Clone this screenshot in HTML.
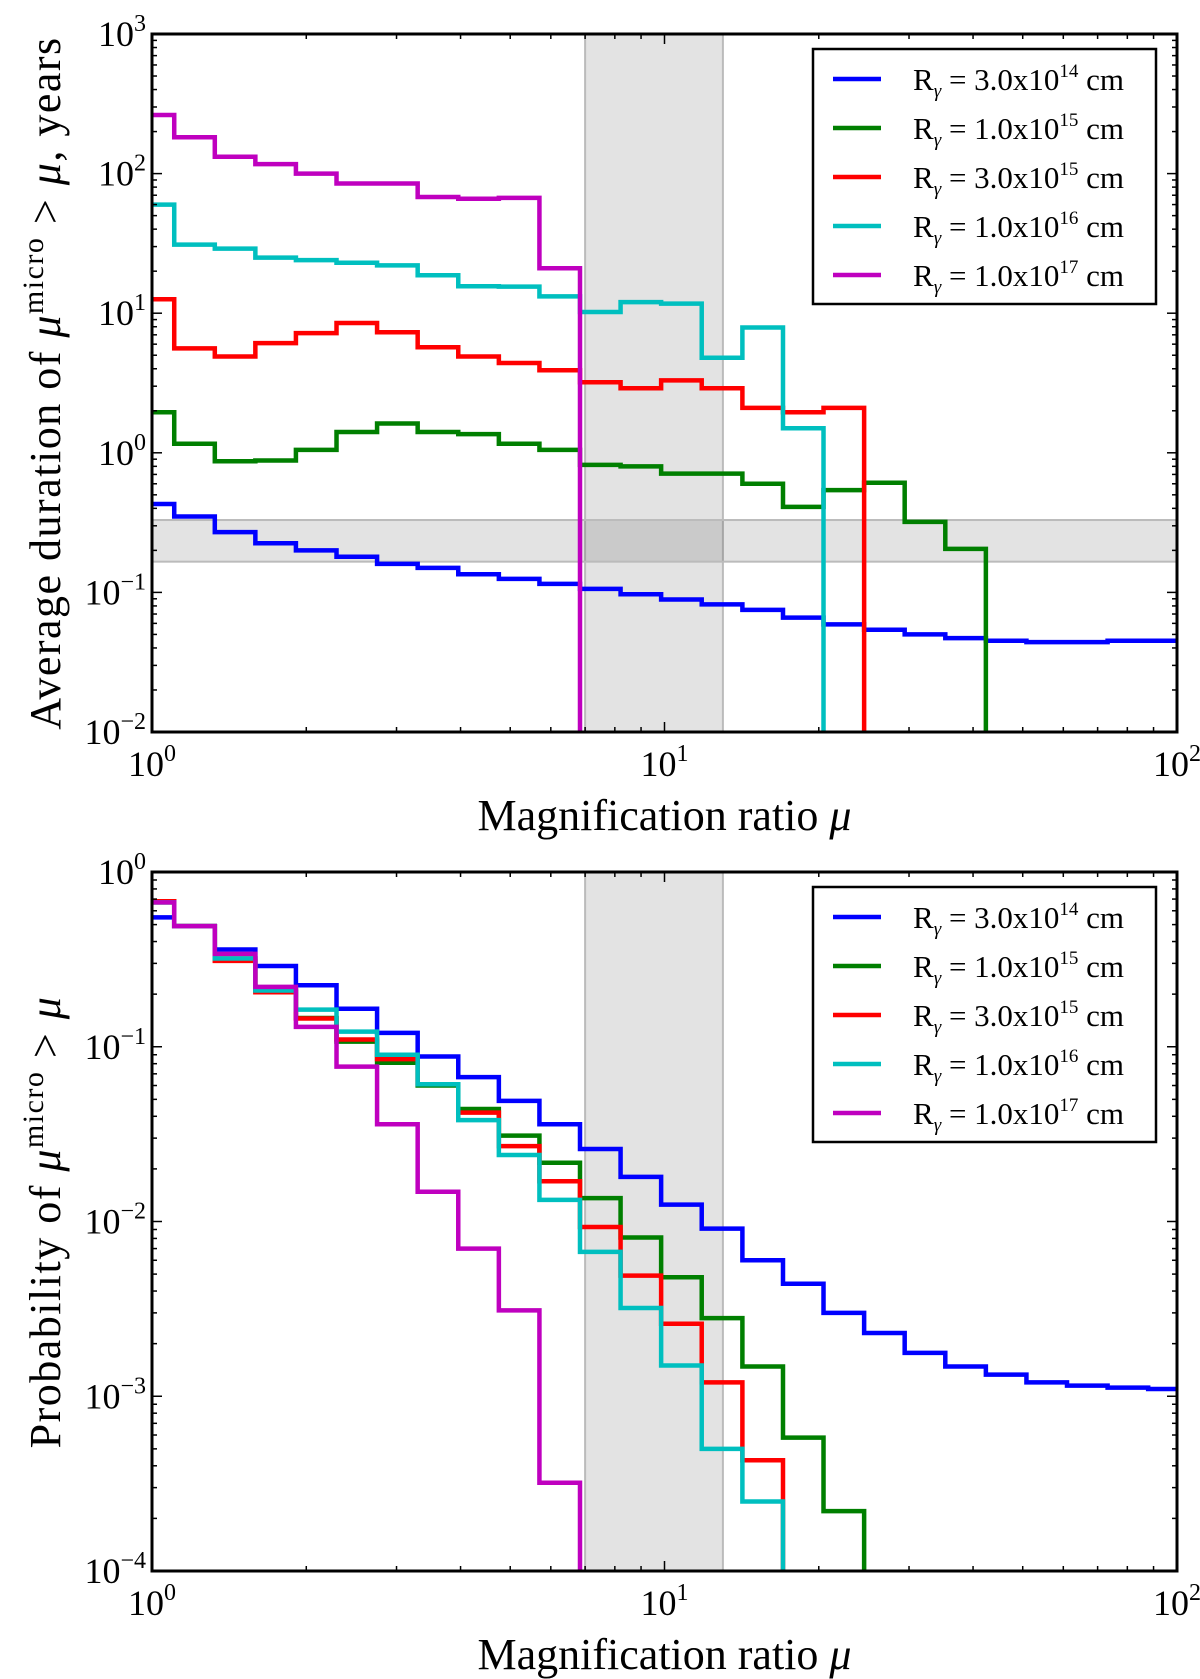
<!DOCTYPE html>
<html><head><meta charset="utf-8"><style>
html,body{margin:0;padding:0;background:#fff;}
svg{display:block;font-family:"Liberation Serif","DejaVu Serif",serif;}
</style></head>
<body>
<svg id="fig" width="1200" height="1679" viewBox="0 0 1200 1679" xmlns="http://www.w3.org/2000/svg"></svg>
<script>
// ---- data ----
const binEdges = [1.105,1.326,1.591,1.909,2.291,2.749,3.299,3.959,4.751,5.701,6.841,8.209,9.85,11.82,14.19,17.03,20.43,24.52,29.42,35.31,42.37,50.84,61.01,73.21,87.85];
const seriesLabels = ["3.0x10","1.0x10","3.0x10","1.0x10","1.0x10"];
const seriesExp = ["14","15","15","16","17"];
const seriesColors = ["#0000ff","#007f00","#ff0000","#00bfbf","#bf00bf"];
const durBlue = [0.43,0.35,0.27,0.225,0.20,0.18,0.16,0.15,0.135,0.125,0.115,0.106,0.097,0.089,0.082,0.075,0.066,0.059,0.054,0.050,0.047,0.045,0.044,0.044,0.045,0.045];
const durGreen = [1.95,1.16,0.87,0.88,1.05,1.41,1.62,1.41,1.36,1.16,1.05,0.82,0.80,0.71,0.71,0.60,0.41,0.54,0.61,0.32,0.205];
const durRed = [12.6,5.6,4.9,6.1,7.2,8.5,7.3,5.7,4.9,4.4,3.9,3.2,2.9,3.3,2.9,2.1,1.95,2.1];
const durCyan = [60,31,29,25,24,23,22,18.7,15.6,15.5,13.2,10.2,12,11.7,4.8,7.9,1.5];
const durMagenta = [263,182,132,117,100,85,85,68,66,67,21];
const probBlue = [0.55,0.49,0.36,0.29,0.225,0.165,0.12,0.088,0.067,0.049,0.036,0.026,0.018,0.0125,0.0091,0.0060,0.0044,0.0030,0.0023,0.00177,0.00148,0.00133,0.0012,0.00115,0.00112,0.0011];
const probGreen = [0.67,0.49,0.32,0.21,0.146,0.107,0.081,0.060,0.044,0.031,0.0217,0.0136,0.0081,0.0048,0.0028,0.00148,0.00058,0.00022];
const probRed = [0.68,0.49,0.31,0.205,0.145,0.11,0.085,0.061,0.042,0.027,0.017,0.0093,0.0049,0.0026,0.0012,0.00043];
const probCyan = [0.67,0.49,0.32,0.21,0.163,0.122,0.090,0.061,0.038,0.024,0.0133,0.0067,0.0032,0.0015,0.0005,0.00025];
const probMagenta = [0.67,0.49,0.34,0.22,0.13,0.077,0.036,0.0148,0.0070,0.0031,0.00032];
const bandX = [7, 13];
const bandY = [0.166, 0.33];
const xTickExps = [0,1,2];
const topYTickExps = [-2,-1,0,1,2,3];
const botYTickExps = [-4,-3,-2,-1,0];

const NS="http://www.w3.org/2000/svg";
const svg=document.getElementById('fig');
function mk(tag,attrs,parent){const e=document.createElementNS(NS,tag);for(const k in attrs)e.setAttribute(k,attrs[k]);(parent||svg).appendChild(e);return e;}

function makePanel(cfg){
  const L=152,R=1177,T=cfg.top,B=cfg.bottom;
  const xs=v=>L+(Math.log10(v)-0)/2*(R-L);
  const ys=v=>B-(Math.log10(v)-cfg.ymin)/(cfg.ymax-cfg.ymin)*(B-T);
  const g=mk('g',{});
  
  
  const cp=mk('clipPath',{id:cfg.name+'-clip'},g);
  mk('rect',{x:L,y:T,width:R-L,height:B-T},cp);
  const plot=mk('g',{'clip-path':'url(#'+cfg.name+'-clip)'},g);
  const vb=mk('rect',{x:xs(bandX[0]),y:T,width:xs(bandX[1])-xs(bandX[0]),height:B-T,fill:'#000','fill-opacity':0.11,stroke:'#bbb','stroke-width':2},plot);
  
  
  if(cfg.hband){
    const hb=mk('rect',{x:L,y:ys(bandY[1]),width:R-L,height:ys(bandY[0])-ys(bandY[1]),fill:'#000','fill-opacity':0.11,stroke:'#bbb','stroke-width':2},plot);
    
    
  }
  cfg.series.forEach((vals,si)=>{
    let d='M'+L+' '+ys(vals[0]);
    for(let i=0;i<vals.length;i++){
      const xe = i<binEdges.length ? xs(binEdges[i]) : R;
      d+=' L'+xe+' '+ys(vals[i]);
      if(i+1<vals.length) d+=' L'+xe+' '+ys(vals[i+1]);
      else if(i<binEdges.length) d+=' L'+xe+' '+(B+5);
    }
    const p=mk('path',{d:d,fill:'none',stroke:seriesColors[si],'stroke-width':4.5,'stroke-linejoin':'miter'},plot);
    
    
  });
  const tk=mk('g',{stroke:'#000','stroke-width':1.5},g);
  for(let e=0;e<2;e++){for(let m=1;m<=9;m++){const v=Math.pow(10,e)*m;const x=xs(v);const len=m==1?10:5;
    mk('line',{x1:x,y1:B,x2:x,y2:B-len},tk);mk('line',{x1:x,y1:T,x2:x,y2:T+len},tk);}}
  for(let e=cfg.ymin;e<cfg.ymax;e++){for(let m=1;m<=9;m++){const v=Math.pow(10,e)*m;const y=ys(v);const len=m==1?10:5;
    mk('line',{x1:L,y1:y,x2:L+len,y2:y},tk);mk('line',{x1:R,y1:y,x2:R-len,y2:y},tk);}}
  const fr=mk('rect',{x:L,y:T,width:R-L,height:B-T,fill:'none',stroke:'#000','stroke-width':3},g);
  
  
  xTickExps.forEach(e=>{
    const t=mk('text',{x:xs(Math.pow(10,e)),y:B+44,'text-anchor':'middle','font-size':36},g);
    
    
    t.innerHTML='10<tspan dy="-15" font-size="24">'+e+'</tspan>';
  });
  cfg.yTicks.forEach(e=>{
    const t=mk('text',{x:L-6,y:ys(Math.pow(10,e))+12,'text-anchor':'end','font-size':36},g);
    
    
    t.innerHTML='10<tspan dy="-15" font-size="24">'+(e<0?'\u2212'+(-e):e)+'</tspan>';
  });
  const xl=mk('text',{x:(L+R)/2,y:B+98,'text-anchor':'middle','font-size':44},g);
  
  
  xl.innerHTML='Magnification ratio <tspan font-style="italic">μ</tspan>';
  const yl=mk('text',{x:0,y:0,'text-anchor':'middle','font-size':44,'letter-spacing':cfg.ls,transform:'translate(60,'+cfg.ylabelY+') rotate(-90)'},g);
  
  
  yl.innerHTML=cfg.ylabel;
  const lg=mk('g',{},g);
  
  
  mk('rect',{x:813,y:T+15,width:343,height:255,fill:'#fff',stroke:'#000','stroke-width':2.5},lg);
  seriesExp.forEach((ex,i)=>{
    const y=T+45+i*49;
    const le=mk('g',{},lg);
    
    
    mk('line',{x1:833,y1:y,x2:881,y2:y,stroke:seriesColors[i],'stroke-width':4.5},le);
    const t=mk('text',{x:913,y:y+11,'font-size':31},le);
    t.innerHTML='R<tspan dy="7" font-size="19" font-style="italic">γ</tspan><tspan dy="-7"> = '+seriesLabels[i]+'</tspan><tspan dy="-13" font-size="19">'+ex+'</tspan><tspan dy="13"> cm</tspan>';
  });
}

makePanel({name:'duration-panel',top:34,bottom:732,ymin:-2,ymax:3,yTicks:topYTickExps,hband:true,ls:1.5,
  series:[durBlue,durGreen,durRed,durCyan,durMagenta],ylabelY:383,
  ylabel:'Average duration of <tspan font-style="italic">μ</tspan><tspan dy="-17" font-size="30">micro</tspan><tspan dy="17"> &gt; </tspan><tspan font-style="italic">μ</tspan>,  years'});
makePanel({name:'probability-panel',top:872,bottom:1571,ymin:-4,ymax:0,yTicks:botYTickExps,hband:false,ls:1.5,
  series:[probBlue,probGreen,probRed,probCyan,probMagenta],ylabelY:1222,
  ylabel:'Probability of <tspan font-style="italic">μ</tspan><tspan dy="-17" font-size="30">micro</tspan><tspan dy="17"> &gt;  </tspan><tspan font-style="italic">μ</tspan>'});
</script>
</body></html>
